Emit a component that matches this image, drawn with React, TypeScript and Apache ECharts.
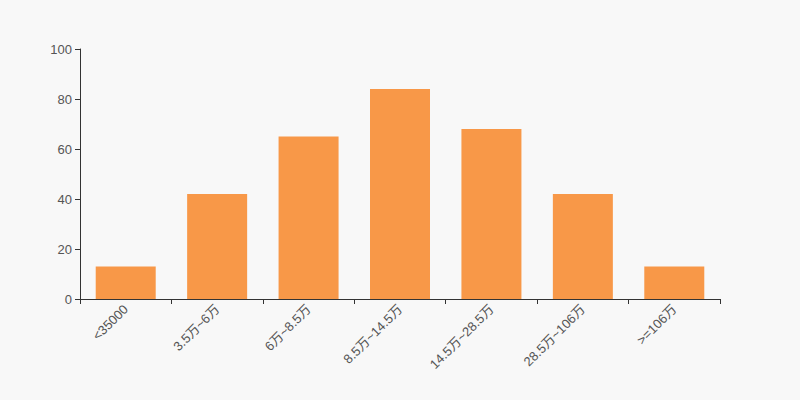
import React, { useEffect, useRef } from "react";
import * as echarts from "echarts";

const categories = ["<35000", "3.5万~6万", "6万~8.5万", "8.5万~14.5万", "14.5万~28.5万", "28.5万~106万", ">=106万"];
const values = [13, 42, 65, 84, 68, 42, 13];

export default function App() {
  const ref = useRef<HTMLDivElement>(null);
  useEffect(() => {
    const chart = echarts.init(ref.current!, null, { renderer: "svg" });
    const font = "Arial, 'Liberation Sans', 'Noto Sans CJK SC', sans-serif";
    chart.setOption({
      animation: false,
      backgroundColor: "#f8f8f8",
      textStyle: { fontFamily: font },
      grid: { left: 80, right: 80, top: 49, bottom: 101 },
      xAxis: {
        type: "category",
        data: categories,
        axisLine: { lineStyle: { color: "#333" } },
        axisTick: { show: true, alignWithLabel: false, length: 5, lineStyle: { color: "#333" } },
        axisLabel: { rotate: 45, color: "#555", fontSize: 13, interval: 0, fontFamily: font },
      },
      yAxis: {
        type: "value",
        min: 0,
        max: 100,
        interval: 20,
        splitLine: { show: false },
        axisLine: { show: true, lineStyle: { color: "#333" } },
        axisTick: { show: true, length: 5, lineStyle: { color: "#333" } },
        axisLabel: { color: "#555", fontSize: 13, fontFamily: font },
      },
      series: [
        {
          type: "bar",
          data: values,
          barWidth: 60,
          itemStyle: { color: "#f89848" },
        },
      ],
    });
    return () => chart.dispose();
  }, []);
  return <div ref={ref} style={{ width: 800, height: 400, position: "absolute", left: 0, top: 0 }} />;
}
